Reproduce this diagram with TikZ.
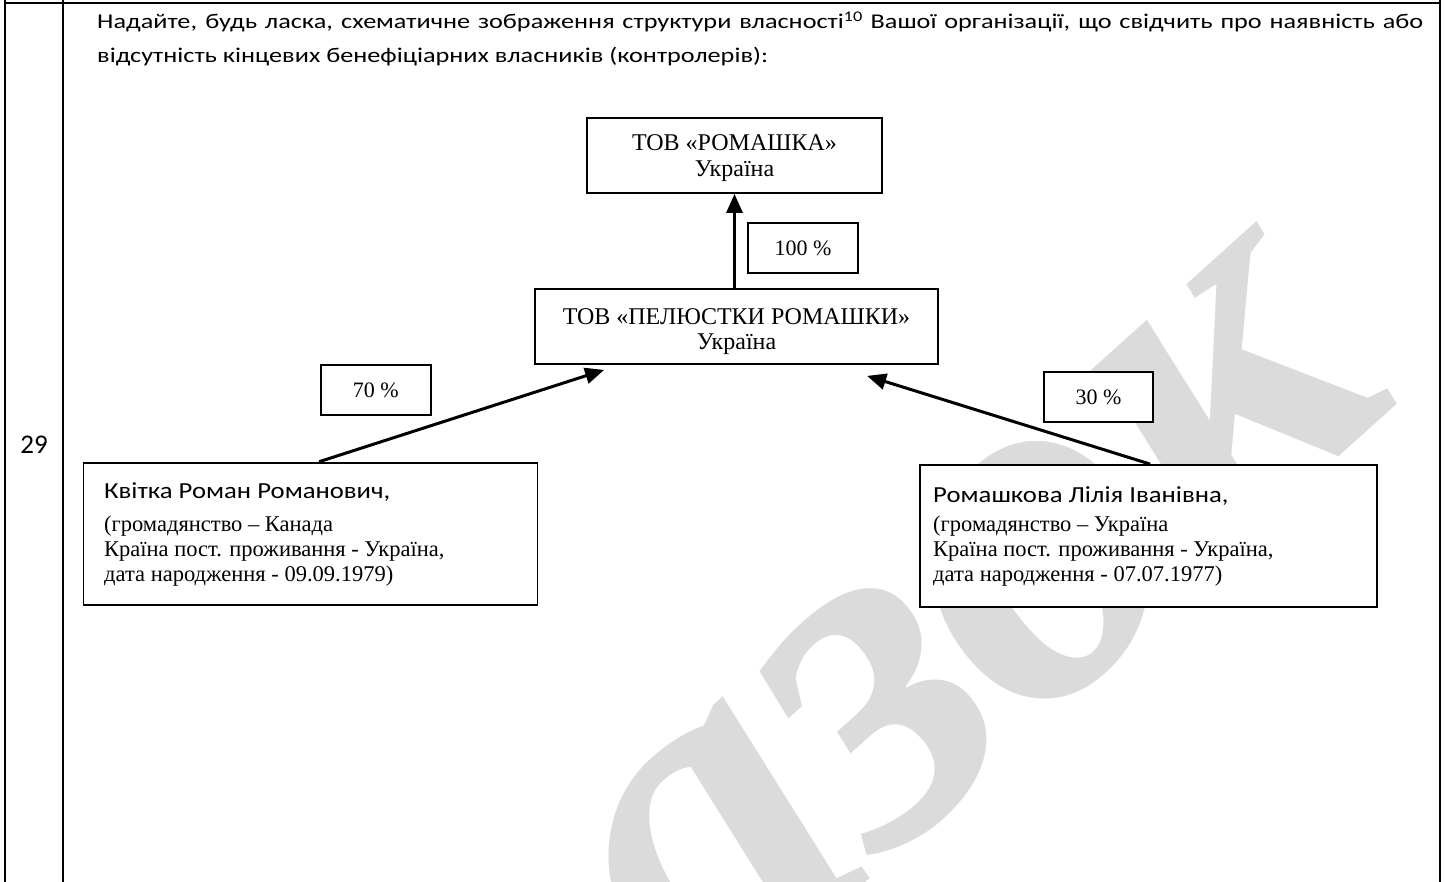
\documentclass[tikz,border=0pt]{standalone}
\usepackage{fontspec}
\setmainfont{Liberation Serif}
\newfontfamily\calbody[FakeStretch=1.25]{Carlito}
\newfontfamily\calname[FakeStretch=1.16]{Carlito}
\newfontfamily\calfont{Carlito}
\usetikzlibrary{arrows.meta,calc}
\tikzset{
  frameline/.style={line width=2pt, black},
  box/.style={draw, line width=1.8pt, fill=white, inner sep=0pt},
  pctbox/.style={box, font=\fontsize{22}{24}\selectfont},
  orgtext/.style={anchor=base, align=center, inner sep=0pt, font=\fontsize{24}{25.7}\selectfont},
  arr/.style={line width=3pt, -{Triangle[length=19pt,width=16pt]}},
  ptext/.style={anchor=base west, align=left, inner sep=0pt, font=\fontsize{22.5}{25}\selectfont},
}
\begin{document}
\begin{tikzpicture}[x=1pt,y=-1pt]
\useasboundingbox (0,0) rectangle (1445,882);
% watermark
\node[rotate=42, text=black!14, font=\bfseries\itshape\fontsize{500}{500}\selectfont] (wm) at (790,800) {Зразок};
% table frame
\draw[frameline] (5,0) -- (5,882);
\draw[frameline] (63,0) -- (63,882);
\draw[frameline] (1440,0) -- (1440,882);
\draw[frameline] (5,3) -- (1440,3);
% question text
\node[anchor=base west, inner sep=0pt, text width=1326pt, align=justify, font=\calbody\fontsize{21}{33.4}\selectfont] (q) at (97,29) {Надайте, будь ласка, схематичне зображення структури власності\textsuperscript{10} Вашої організації, що свідчить про наявність або\linebreak відсутність кінцевих бенефіціарних власників (контролерів):};
\node[font=\calfont\fontsize{27}{30}\selectfont, inner sep=0pt] (num) at (34,445) {29};
% organisations
\node[box, minimum width=295pt, minimum height=75pt] (top) at (734.5,155.5) {};
\node[orgtext] (toptext) at (734.5,176.7) {ТОВ «РОМАШКА»\\Україна};
\node[box, minimum width=403pt, minimum height=75pt] (mid) at (736.5,326.5) {};
\node[orgtext] (midtext) at (736.5,350) {ТОВ «ПЕЛЮСТКИ РОМАШКИ»\\Україна};
% percentages
\node[pctbox, minimum width=110.6pt, minimum height=50pt] (p100) at (803,248.3) {100 \%};
\node[pctbox, minimum width=110pt, minimum height=50pt] (p70) at (375.8,390) {70 \%};
\node[pctbox, minimum width=109pt, minimum height=50pt] (p30) at (1098.5,397) {30 \%};
% persons
\node[box, minimum width=454pt, minimum height=142pt] (kv) at (310.4,533.6) {};
\node[box, minimum width=457pt, minimum height=142pt] (rl) at (1148.5,536) {};
\node[ptext] (kvt) at (104,581.7) {{\calname\fontsize{23}{25}\selectfont Квітка Роман Романович,}\\[8.4pt](громадянство – Канада\\Країна пост. проживання - Україна,\\дата народження - 09.09.1979)};
\node[ptext] (rlt) at (933,581.7) {{\calname\fontsize{23}{25}\selectfont Ромашкова Лілія Іванівна,}\\[4.4pt](громадянство – Україна\\Країна пост. проживання - Україна,\\дата народження - 07.07.1977)};
% arrows
\draw[arr] (mid.north -| top.south) -- (top.south);
\draw[arr] ([xshift=236.7pt]kv.north west) -- ([xshift=70pt,yshift=-5pt]mid.south west);
\draw[arr] ([xshift=231pt]rl.north west) -- ([xshift=333pt,yshift=-11pt]mid.south west);
\end{tikzpicture}
\end{document}
